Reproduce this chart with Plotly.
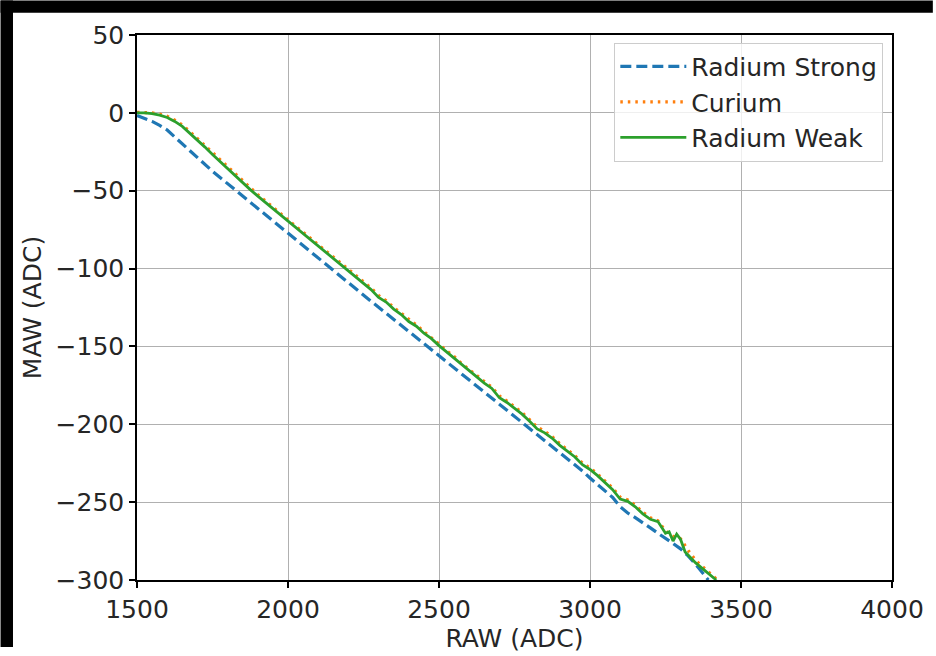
import plotly.graph_objects as go

# ---------------- data ----------------
strong_x = [1500, 1525, 1550, 1575, 1600, 1625, 1650, 1675, 1700, 1725, 1750, 1775, 1800, 1825, 1850,
            1875, 1900, 1925, 1950, 1975, 2000, 2025, 2050, 2075, 2100, 2125, 2150, 2175, 2200, 2225,
            2250, 2275, 2300, 2325, 2350, 2375, 2400, 2425, 2450, 2475, 2500, 2525, 2550, 2575, 2600,
            2625, 2650, 2675, 2700, 2725, 2750, 2775, 2800, 2825, 2850, 2875, 2900, 2925, 2950, 2975,
            3000, 3025, 3050, 3075, 3100, 3125, 3150, 3175, 3200, 3225, 3250, 3275, 3300, 3325, 3350,
            3375, 3392]
strong_y = [-1.7, -3.5, -5.5, -8, -11, -15.5, -20, -24.5, -29, -33, -37.5, -41.5, -45.5, -49.5, -53.5,
            -57.5, -61.5, -65.5, -69.5, -73.5, -77.5, -81.5, -85.5, -89.5, -93.5, -97.5, -101.3, -105.2, -109, -113,
            -117, -121, -124.8, -128.7, -132.5, -136.5, -140.3, -144.2, -148, -152, -155.8, -159.7, -163.6, -167.5, -171.4,
            -175.3, -179.2, -183, -187, -191, -194.8, -198.7, -202.6, -206.5, -210.4, -214.3, -218.2, -222, -226, -230,
            -234.5, -238.5, -242.5, -247, -253, -257, -260, -263, -266.5, -270, -273, -276.5, -280, -284.5, -290,
            -295.5, -300]

curium_x = [1500, 1525, 1550, 1575, 1600, 1625, 1650, 1675, 1700, 1725, 1750, 1775, 1800, 1825, 1850,
            1875, 1900, 1925, 1950, 1975, 2000, 2025, 2050, 2075, 2100, 2125, 2150, 2175, 2200, 2225,
            2250, 2275, 2300, 2325, 2350, 2375, 2400, 2425, 2450, 2475, 2500, 2525, 2550, 2575, 2600,
            2625, 2650, 2675, 2700, 2725, 2750, 2775, 2800, 2825, 2850, 2875, 2900, 2925, 2950, 2975,
            3000, 3025, 3050, 3075, 3100, 3125, 3150, 3175, 3200, 3225, 3250, 3275, 3300, 3325, 3350,
            3375, 3400, 3422]
curium_y = [0.3, 0.4, 0, -0.8, -2.2, -4.6, -7.8, -12, -16.5, -21, -25.7, -30.3, -35, -39.5, -44,
            -48.3, -52.5, -56.5, -60.7, -64.8, -68.8, -72.8, -76.6, -80.8, -84.5, -88.7, -92.5, -96.8, -100.5, -104.5,
            -108.5, -112.5, -117.3, -120.7, -125, -128.7, -133, -136.2, -140.5, -144.2, -148.5, -152.7, -156.5, -161, -165,
            -169, -172.5, -176.2, -181.8, -185, -188.5, -192.5, -197, -201.8, -204.5, -208, -212.5, -216.5, -220.2, -225,
            -228, -232, -236.5, -241, -246.8, -248.5, -252, -256.5, -260, -262, -268.5, -272, -273.5, -281, -287.5,
            -291.8, -296, -300]

weak_x = [1500, 1525, 1550, 1575, 1600, 1625, 1650, 1675, 1700, 1725, 1750, 1775, 1800, 1825, 1850,
          1875, 1900, 1925, 1950, 1975, 2000, 2025, 2050, 2075, 2100, 2125, 2150, 2175, 2200, 2225,
          2250, 2275, 2300, 2325, 2350, 2375, 2400, 2425, 2450, 2475, 2500, 2525, 2550, 2575, 2600,
          2625, 2650, 2675, 2700, 2725, 2750, 2775, 2800, 2825, 2850, 2875, 2900, 2925, 2950, 2975,
          3000, 3025, 3050, 3075, 3100, 3125, 3150, 3175, 3200, 3225, 3250, 3262, 3275, 3287, 3300,
          3315, 3350, 3375, 3400, 3418]
weak_y = [0, 0, -0.5, -1.5, -3, -5.5, -8.7, -13, -17.5, -22, -26.7, -31.3, -36, -40.5, -45,
          -49.3, -53.5, -57.5, -61.7, -65.8, -69.8, -73.8, -77.6, -81.8, -85.5, -89.7, -93.5, -97.8, -101.5, -105.5,
          -109.5, -113.5, -118.5, -121.5, -126, -129.5, -134, -137, -141.5, -145, -149.5, -153.5, -157.5, -162, -166,
          -170, -173.5, -177, -183, -186, -189.5, -193.5, -198, -203, -205.5, -209, -213.5, -217.5, -221, -226,
          -229, -233, -237.5, -242, -248, -249.5, -253, -257.5, -261, -262.5, -270, -269, -275, -270.5, -274,
          -282, -289, -293, -297, -300]

x_ticks = [1500, 2000, 2500, 3000, 3500, 4000]
y_ticks = [50, 0, -50, -100, -150, -200, -250, -300]

# ---------------- figure ----------------
FONT = "DejaVu Sans"
FS = 25
TXT = "#262626"
fig = go.Figure()
fig.add_trace(go.Scatter(x=strong_x, y=strong_y, mode="lines", name="Radium Strong",
                         line=dict(color="#1f77b4", width=3.2, dash="11px,5px")))
fig.add_trace(go.Scatter(x=curium_x, y=curium_y, mode="lines", name="Curium",
                         line=dict(color="#ff7f0e", width=3.2, dash="2.5px,5px")))
fig.add_trace(go.Scatter(x=weak_x, y=weak_y, mode="lines", name="Radium Weak",
                         line=dict(color="#2ca02c", width=2.8)))

axis_common = dict(showline=True, linecolor="black", linewidth=1.5, mirror=True,
                   ticks="outside", ticklen=6, tickwidth=1.5, tickcolor="black",
                   showgrid=True, gridcolor="#b0b0b0", gridwidth=1, zeroline=False,
                   tickfont=dict(family=FONT, size=FS, color=TXT))

fig.update_xaxes(range=[1500, 4000], tickvals=x_ticks,
                 title=dict(text="RAW (ADC)", font=dict(family=FONT, size=FS, color=TXT), standoff=3),
                 **axis_common)
fig.update_yaxes(range=[-300, 50], tickvals=y_ticks,
                 title=dict(text="MAW (ADC)", font=dict(family=FONT, size=FS, color=TXT), standoff=7),
                 **axis_common)

L, R, T, B = 137, 41, 35, 68
W, H = 936, 656
pw, ph = W - L - R, H - T - B
fig.update_layout(
    width=W, height=H,
    margin=dict(l=L, r=R, t=T, b=B),
    paper_bgcolor="white", plot_bgcolor="white",
    font=dict(family=FONT, size=FS, color=TXT),
    legend=dict(x=0.9885, y=0.986, xanchor="right", yanchor="top",
                bgcolor="rgba(255,255,255,0.8)", bordercolor="#cccccc", borderwidth=1,
                font=dict(family=FONT, size=FS, color=TXT),
                itemwidth=66, tracegroupgap=0),
    shapes=[
        dict(type="rect", xref="paper", yref="paper", layer="above",
             x0=-L / pw, x1=(12.5 - L) / pw, y0=-B / ph, y1=(H - B) / ph,
             fillcolor="black", line=dict(width=0)),
        dict(type="rect", xref="paper", yref="paper", layer="above",
             x0=-L / pw, x1=(W - L) / pw, y0=(H - B - 12.5) / ph, y1=(H - B) / ph,
             fillcolor="black", line=dict(width=0)),
    ],
)

fig.write_html(
    "out.html",
    config={"displayModeBar": False},
    post_script=("document.documentElement.style.background='white';"
                 "document.body.style.background='white';"
                 "document.body.style.margin='0';"
                 "document.body.style.overflow='hidden';"),
)
